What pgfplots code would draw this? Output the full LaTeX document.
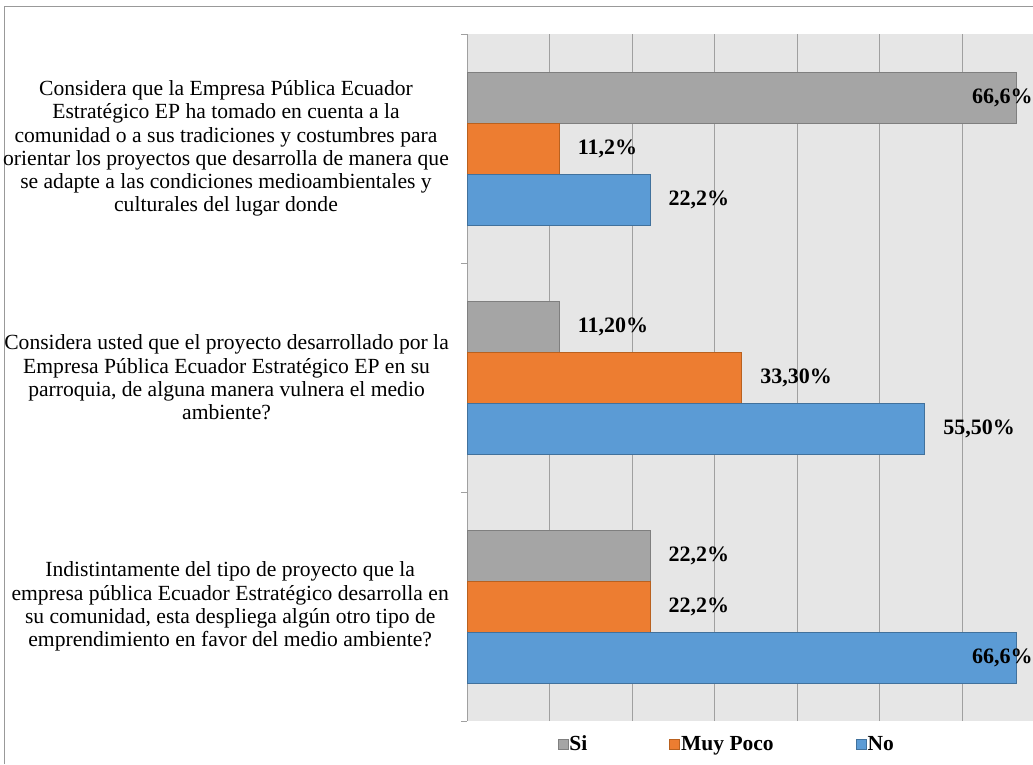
\documentclass[border=0pt]{standalone}
\usepackage{fontspec}
\setmainfont{Liberation Serif}
\usepackage{pgfplots}
\usepackage{pgfplotstable}
\pgfplotsset{compat=1.18}

\definecolor{siFill}{HTML}{A5A5A5}
\definecolor{siLine}{HTML}{7F7F7F}
\definecolor{mpFill}{HTML}{ED7D31}
\definecolor{mpLine}{HTML}{B9611F}
\definecolor{noFill}{HTML}{5B9BD5}
\definecolor{noLine}{HTML}{41719C}
\definecolor{plotBg}{HTML}{E6E6E6}
\definecolor{gridCol}{HTML}{A0A0A0}

% x = percent, y = question (2 = first question), sh = label offset in pt
\pgfplotstableread{
x    y  lbl      sh
66.6 2  66,6\%   -45
11.2 1  11,20\%  18
22.2 0  22,2\%   18
}\si
\pgfplotstableread{
x    y  lbl      sh
11.2 2  11,2\%   18
33.3 1  33,30\%  18
22.2 0  22,2\%   18
}\muypoco
\pgfplotstableread{
x    y  lbl      sh
22.2 2  22,2\%   18
55.5 1  55,50\%  18
66.6 0  66,6\%   -45
}\no

\begin{document}
\begin{tikzpicture}
\path[use as bounding box] (0,0) rectangle (1033pt,-764pt);
\draw[gray!80, line width=1pt] (4pt,-764pt) -- (4pt,-6pt) -- (1033pt,-6pt);
\begin{axis}[
    at={(467pt,-721pt)}, anchor=south west,
    scale only axis,
    width=566pt, height=687pt,
    xbar, bar width=0.2227,
    xmin=0, xmax=68.6,
    ymin=-0.5, ymax=2.5,
    enlargelimits=false,
    axis background/.style={fill=plotBg},
    axis y line*=left,
    axis x line*=bottom,
    x axis line style={draw=none},
    y axis line style={draw=gridCol, line width=1pt},
    xtick={0,10,...,60},
    xticklabel=\empty,
    xmajorgrids,
    major grid style={draw=gridCol, line width=1pt},
    ytick={0,1,2},
    yticklabels={
      {Indistintamente del tipo de proyecto que la\\empresa pública Ecuador Estratégico desarrolla en\\su comunidad, esta despliega algún otro tipo de\\emprendimiento en favor del medio ambiente?},
      {Considera usted que el proyecto desarrollado por la\\Empresa Pública Ecuador Estratégico EP en su\\parroquia, de alguna manera vulnera el medio\\ambiente?},
      {Considera que la Empresa Pública Ecuador\\Estratégico EP ha tomado en cuenta a la\\comunidad o a sus tradiciones y costumbres para\\orientar los proyectos que desarrolla de manera que\\se adapte a las condiciones medioambientales y\\culturales del lugar donde}
    },
    yticklabel style={align=center, inner sep=0pt, xshift=-18pt,
      font=\fontsize{21.6}{23.3}\selectfont},
    minor ytick={-0.5,0.5,1.5,2.5},
    major tick length=0pt,
    minor tick length=6pt,
    tick align=outside,
    minor tick style={draw=gridCol, line width=1pt},
    nodes near coords,
    point meta=explicit symbolic,
    visualization depends on={\thisrow{sh} \as \lblsh},
    every node near coord/.append style={anchor=west, inner sep=0pt,
      xshift=\lblsh pt, text=black,
      font=\fontsize{22}{24}\selectfont\bfseries},
    legend columns=3,
    legend style={at={(0.458,-0.0335)}, anchor=center, draw=none, fill=none,
      font=\fontsize{21.5}{24}\selectfont\bfseries,
      nodes={inner sep=1pt},
      /tikz/every even column/.append style={column sep=81pt}},
    legend image code/.code={\draw[#1, line width=0.8pt] (0pt,-5pt) rectangle (10pt,5pt);},
]
\addplot[fill=siFill, draw=siLine, line width=1pt, bar shift=0.2227]
  table[x=x, y=y, meta=lbl] {\si};
\addlegendentry{Si}
\addplot[fill=mpFill, draw=mpLine, line width=1pt, bar shift=0]
  table[x=x, y=y, meta=lbl] {\muypoco};
\addlegendentry{Muy Poco}
\addplot[fill=noFill, draw=noLine, line width=1pt, bar shift=-0.2227]
  table[x=x, y=y, meta=lbl] {\no};
\addlegendentry{No}
\end{axis}
\end{tikzpicture}
\end{document}
